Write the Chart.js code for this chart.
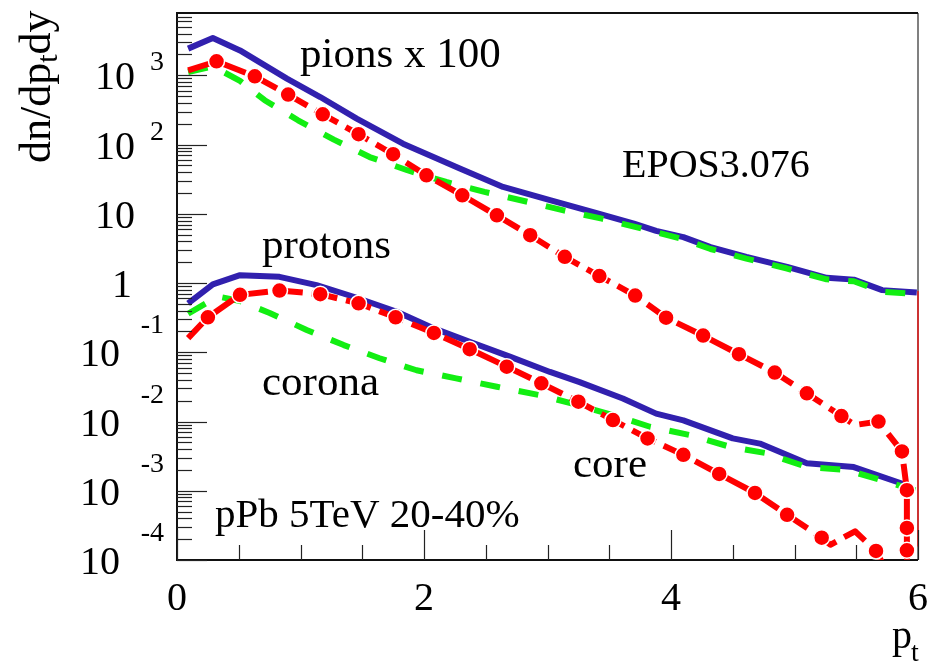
<!DOCTYPE html>
<html>
<head>
<meta charset="utf-8">
<script src="https://cdn.jsdelivr.net/npm/chart.js@4.4.1/dist/chart.umd.min.js"></script>
<style>
  html, body { margin: 0; padding: 0; background: #fff; }
</style>
</head>
<body>
<canvas id="spectra" width="931" height="665"></canvas>
<script>
// pions (x 100)
const pionTotalPt = [0.09, 0.29, 0.51, 0.89, 1.16, 1.455, 1.83, 2.29, 2.64, 3.02, 3.37, 3.70, 3.88, 4.10, 4.32, 4.61, 4.94, 5.26, 5.48, 5.71, 5.99];
const pionTotal   = [2430, 3450, 2290, 895, 486, 237, 103, 45, 24.4, 15.7, 10.6, 7.2, 5.67, 4.6, 3.3, 2.39, 1.71, 1.19, 1.12, 0.79, 0.73];

const pionCoronaPt = [0.09, 0.29, 0.51, 0.71, 0.98, 1.27, 1.56, 1.865, 2.18, 2.49, 2.81, 3.13, 3.44, 3.75, 4.10, 4.32, 4.61, 4.94, 5.26, 5.48, 5.71, 5.99];
const pionCorona   = [1117, 1350, 830, 437, 224, 118, 66, 42.6, 28.8, 20.7, 15.3, 11.2, 8.5, 6.2, 4.3, 3.1, 2.25, 1.62, 1.13, 1.06, 0.75, 0.69];

const pionCorePt = [0.09, 0.32, 0.63, 0.90, 1.18, 1.47, 1.75, 2.02, 2.31, 2.59, 2.86, 3.14, 3.42, 3.71, 3.96, 4.26, 4.55, 4.84, 5.10, 5.38, 5.49, 5.68, 5.87, 5.91, 5.91, 5.91, 5.92];
const pionCore   = [1180, 1590, 968, 527, 273, 141, 72.5, 36, 18.5, 9.5, 4.9, 2.39, 1.26, 0.66, 0.316, 0.174, 0.094, 0.051, 0.0255, 0.012, 0.0089, 0.010, 0.0037, 0.00102, 0.00029, 0.000138, 0.00001];

// protons
const protonTotalPt = [0.09, 0.29, 0.51, 0.83, 1.13, 1.43, 1.78, 2.08, 2.37, 2.70, 3.02, 3.26, 3.61, 3.88, 4.10, 4.50, 4.72, 5.10, 5.48, 5.91];
const protonTotal   = [0.507, 0.955, 1.30, 1.23, 0.935, 0.634, 0.385, 0.221, 0.142, 0.086, 0.052, 0.037, 0.0215, 0.013, 0.0104, 0.0057, 0.0048, 0.0025, 0.0022, 0.0012];

const protonCoronaPt = [0.09, 0.33, 0.51, 0.75, 1.05, 1.35, 1.64, 1.94, 2.26, 2.59, 2.94, 3.21, 3.53, 3.83, 4.15, 4.48, 4.77, 5.10, 5.42, 5.72, 5.99];
const protonCorona   = [0.36, 0.64, 0.55, 0.37, 0.21, 0.127, 0.082, 0.055, 0.042, 0.0318, 0.024, 0.018, 0.0124, 0.0084, 0.0064, 0.0043, 0.0035, 0.0022, 0.002, 0.0014, 0.001];

const protonCorePt = [0.09, 0.25, 0.51, 0.83, 1.16, 1.47, 1.77, 2.08, 2.37, 2.67, 2.95, 3.25, 3.53, 3.81, 4.10, 4.39, 4.68, 4.94, 5.22, 5.29, 5.49, 5.66, 5.85];
const protonCore   = [0.16, 0.32, 0.675, 0.78, 0.69, 0.51, 0.32, 0.19, 0.111, 0.062, 0.0356, 0.0193, 0.0105, 0.0057, 0.0033, 0.00175, 0.00093, 0.00045, 0.00021, 0.000166, 0.00026, 0.000135, 0.00003];

// thin red line along the right edge
const edgePt  = [6, 6];
const edgeVal = [0.75, 0.00016];

// points of the core curves drawn without a marker
const unmarkedPt = [0.09, 5.29, 5.49, 5.85, 5.92];

const yDecades = [3, 2, 1, 0, -1, -2, -3, -4];
const xTickLabels = [0, 2, 4, 6];

const BLUE = "#3120ae";
const RED = "#ff0000";
const GREEN = "#12ee12";
const SERIF = '"Liberation Serif", "Times New Roman", serif';

function series(label, xs, ys, color, extra) {
    return Object.assign({
        label,
        data: xs.map((x, i) => ({ x, y: ys[i] })),
        borderColor: color,
        backgroundColor: color,
        borderWidth: 6,
        borderJoinStyle: "round",
        showLine: true,
        pointRadius: 0,
        pointHoverRadius: 0,
        tension: 0,
        clip: 0,
    }, extra);
}

const coreStyle = {
    borderDash: [26, 9],
    pointRadius: (c) => (c.raw && unmarkedPt.includes(c.raw.x) ? 0 : 8),
    pointBorderColor: "#ffffff",
    pointBorderWidth: 1.5,
    pointBackgroundColor: RED,
};
const coronaStyle = { borderDash: [20, 19] };

const rootAxes = {
    id: "rootAxes",
    beforeDatasetsDraw(chart) {
        const { ctx, chartArea: a } = chart;
        ctx.save();
        ctx.lineWidth = 2;
        ctx.strokeStyle = "#808080";
        ctx.beginPath();
        ctx.moveTo(a.right, a.top);
        ctx.lineTo(a.right, a.bottom);
        ctx.stroke();
        ctx.strokeStyle = "#111";
        ctx.beginPath();
        ctx.moveTo(a.right, a.top);
        ctx.lineTo(a.left, a.top);
        ctx.lineTo(a.left, a.bottom);
        ctx.lineTo(a.right, a.bottom);
        ctx.stroke();
        ctx.restore();
    },
    afterDraw(chart) {
        const { ctx, chartArea: a } = chart;
        const xs = chart.scales.x, ys = chart.scales.y;
        ctx.save();
        ctx.strokeStyle = "#222";
        ctx.lineWidth = 1.2;

        // y ticks, pointing inwards
        for (let d = -4; d <= 3; d++) {
            for (let m = 1; m <= 9; m++) {
                const v = m * Math.pow(10, d);
                if (v > ys.max) break;
                const py = Math.round(ys.getPixelForValue(v)) + 0.5;
                ctx.beginPath();
                ctx.moveTo(a.left, py);
                ctx.lineTo(a.left + (m === 1 ? 30 : 15), py);
                ctx.stroke();
            }
        }
        // x ticks
        for (let v = 0; v <= 6; v += 0.5) {
            const px = Math.round(xs.getPixelForValue(v)) + 0.5;
            ctx.beginPath();
            ctx.moveTo(px, a.bottom);
            ctx.lineTo(px, a.bottom - (v % 2 === 0 ? 30 : 15));
            ctx.stroke();
        }

        ctx.fillStyle = "#000";
        ctx.textBaseline = "alphabetic";

        // y labels
        yDecades.forEach((e) => {
            const py = ys.getPixelForValue(Math.pow(10, e));
            ctx.textAlign = "right";
            ctx.font = "40px " + SERIF;
            if (e === 0) {
                ctx.fillText("1", 132, py + 14);
            } else if (e === 1) {
                ctx.fillText("10", 135, py + 14);
            } else {
                ctx.fillText("10", e > 0 ? 135 : 120, py + 14);
                ctx.font = "28px " + SERIF;
                ctx.fillText(e > 0 ? String(e) : "-" + (-e), 164, e > 0 ? py - 5 : py - 19);
            }
        });

        // x labels
        ctx.textAlign = "center";
        ctx.font = "40px " + SERIF;
        xTickLabels.forEach((v) => {
            ctx.fillText(String(v), xs.getPixelForValue(v), 610);
        });

        // x title
        ctx.textAlign = "left";
        ctx.fillText("p", 892, 648);
        ctx.font = "28px " + SERIF;
        ctx.fillText("t", 911, 661);

        // y title
        ctx.save();
        ctx.translate(50, 163);
        ctx.rotate(-Math.PI / 2);
        ctx.font = "44px " + SERIF;
        ctx.fillText("dn/dp", 0, 0);
        let w = ctx.measureText("dn/dp").width;
        ctx.font = "30px " + SERIF;
        ctx.fillText("t", w, 7);
        w += ctx.measureText("t").width;
        ctx.font = "44px " + SERIF;
        ctx.fillText("dy", w, 0);
        ctx.restore();

        // annotations
        ctx.font = "43px " + SERIF;
        ctx.fillText("pions x 100", 300, 67);
        ctx.fillText("protons", 262, 258);
        ctx.fillText("corona", 262, 395);
        ctx.fillText("core", 573, 477);
        ctx.font = "40px " + SERIF;
        ctx.fillText("EPOS3.076", 622, 177);
        ctx.font = "41px " + SERIF;
        ctx.fillText("pPb 5TeV 20-40%", 215, 527);
        ctx.restore();
    },
};

new Chart(document.getElementById("spectra"), {
    type: "scatter",
    data: {
        datasets: [
            series("pion core", pionCorePt, pionCore, RED, coreStyle),
            series("proton core", protonCorePt, protonCore, RED, coreStyle),
            series("pion corona", pionCoronaPt, pionCorona, GREEN, coronaStyle),
            series("proton corona", protonCoronaPt, protonCorona, GREEN, coronaStyle),
            series("pion total", pionTotalPt, pionTotal, BLUE),
            series("proton total", protonTotalPt, protonTotal, BLUE),
            series("edge", edgePt, edgeVal, "#cc3333", { borderWidth: 2, clip: 3 }),
        ],
    },
    options: {
        responsive: false,
        animation: false,
        devicePixelRatio: 1,
        layout: { padding: { top: 13, right: 13, left: 0, bottom: 0 } },
        plugins: {
            legend: { display: false },
            tooltip: { enabled: false },
        },
        scales: {
            x: {
                type: "linear",
                min: 0,
                max: 6,
                grid: { display: false },
                border: { display: false },
                ticks: { display: false },
                afterFit: (s) => { s.height = 105; },
            },
            y: {
                type: "logarithmic",
                min: 1e-4,
                max: 7943,
                grid: { display: false },
                border: { display: false },
                ticks: { display: false },
                afterFit: (s) => { s.width = 177; },
            },
        },
    },
    plugins: [rootAxes],
});
</script>
</body>
</html>
